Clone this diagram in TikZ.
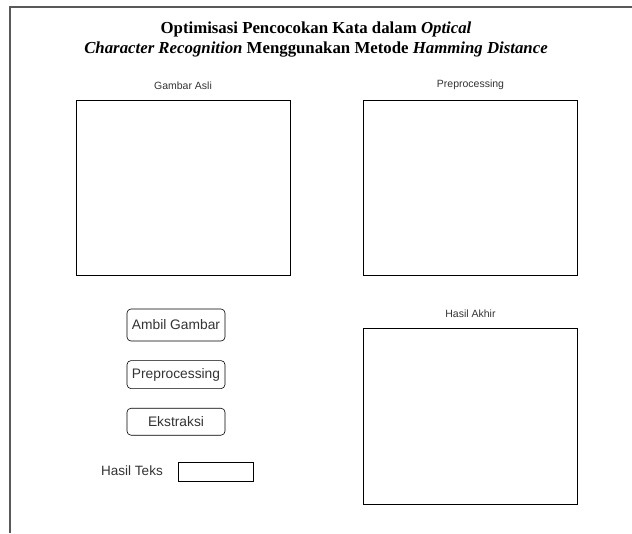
\documentclass[tikz,border=0pt]{standalone}
\usepackage{fontspec}
\setmainfont{Liberation Serif}
\setsansfont{Liberation Sans}
\usetikzlibrary{positioning}

\begin{document}
\begin{tikzpicture}[x=1pt, y=-1pt, node distance=19pt,
        panel/.style={draw, line width=0.8pt, minimum width=214pt, minimum height=175pt, inner sep=0pt},
        caption/.style={font=\sffamily\fontsize{10.5}{12}\selectfont, text=black!80, inner sep=0pt},
        button/.style={draw, line width=0.6pt, rounded corners=4pt, minimum width=98pt, minimum height=28pt, inner sep=0pt, font=\sffamily\fontsize{13.8}{15}\selectfont, text=black!80}]
        \useasboundingbox (0,0) rectangle (632,533);

        % Frame
        \draw[line width=1.2pt, black!65] (632,7) -- (10,7) -- (10,533);

        % Title
        \node (title) at (316,39.5) [align=center, font=\bfseries\fontsize{16.8}{19.5}\selectfont]
            {Optimisasi Pencocokan Kata dalam \textit{Optical}\\
             \textit{Character Recognition} Menggunakan Metode \textit{Hamming Distance}};

        % Panels
        \node (asli) at (183,187.5) [panel] {};
        \node (prepro) at (470.5,187.5) [panel] {};
        \node (akhir) at (470.5,416) [panel, minimum height=176pt] {};
        \node (asliLabel) [caption, above=9.5pt of asli] {Gambar Asli};
        \node (preproLabel) [caption, above=9.5pt of prepro] {Preprocessing};
        \node (akhirLabel) [caption, above=9.5pt of akhir] {Hasil Akhir};

        % Buttons
        \node (ambil) at (176,325) [button, minimum height=32pt] {Ambil Gambar};
        \node (preproBtn) [button, below=of ambil] {Preprocessing};
        \node (ekstraksi) [button, below=of preproBtn, minimum height=27pt] {Ekstraksi};

        % Hasil teks
        \node (teks) at (132,471) [font=\sffamily\fontsize{13.5}{15}\selectfont, text=black!80] {Hasil Teks};
        \node (teksField) at (215.5,471.5) [draw, line width=0.6pt, minimum width=75pt, minimum height=19pt, inner sep=0pt] {};
\end{tikzpicture}
\end{document}
